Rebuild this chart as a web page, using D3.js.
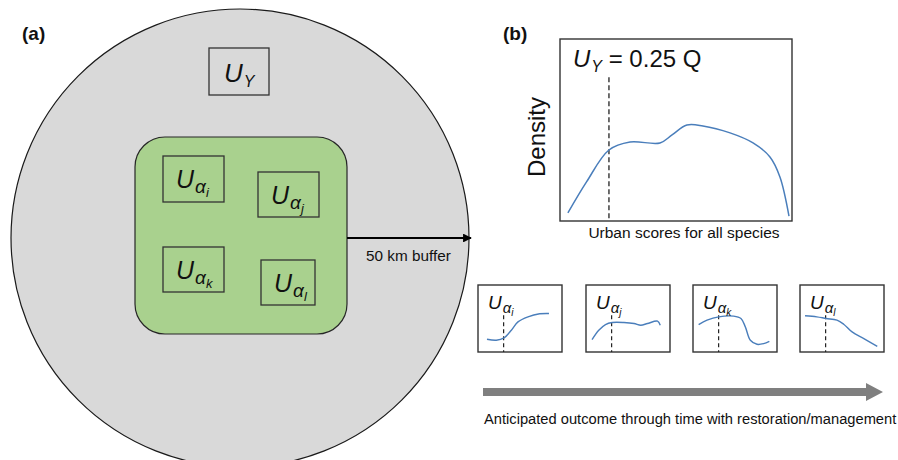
<!DOCTYPE html>
<html>
<head>
<meta charset="utf-8">
<script src="https://cdn.jsdelivr.net/npm/d3@7"></script>
<style>
  body { margin: 0; background: #fff; }
  svg { display: block; }
  text { font-family: "Liberation Sans", Arial, sans-serif; fill: #111; }
</style>
</head>
<body>
<svg id="fig" width="898" height="460"></svg>
<script>
// ---- Data -------------------------------------------------------------
// Regional distribution of urban scores for all species (panel b)
const regionScore   = [0.034, 0.115, 0.211, 0.302, 0.431, 0.483, 0.547, 0.616, 0.733, 0.832, 0.905, 0.948, 0.987];
const regionDensity = [0.044, 0.216, 0.390, 0.434, 0.429, 0.473, 0.527, 0.522, 0.484, 0.429, 0.352, 0.242, 0.027];
const regionQuantile = 0.211;   // U_Y = 0.25 quantile
const regionQuantileTop = 0.79;

// Site-level outcome curves (one per site alpha_i .. alpha_l)
const siteIds = ["i", "j", "k", "l"];
const siteScore_i   = [0.107, 0.218, 0.310, 0.397, 0.476, 0.595, 0.734, 0.845];
const siteDensity_i = [0.190, 0.175, 0.210, 0.325, 0.450, 0.525, 0.570, 0.575];
const siteScore_j   = [0.072, 0.152, 0.232, 0.312, 0.452, 0.572, 0.652, 0.732, 0.852, 0.884];
const siteDensity_j = [0.185, 0.325, 0.410, 0.440, 0.440, 0.425, 0.400, 0.425, 0.460, 0.400];
const siteScore_k   = [0.067, 0.167, 0.306, 0.484, 0.571, 0.623, 0.683, 0.762, 0.841, 0.909];
const siteDensity_k = [0.410, 0.475, 0.525, 0.535, 0.500, 0.375, 0.175, 0.115, 0.125, 0.160];
const siteScore_l   = [0.060, 0.200, 0.312, 0.440, 0.520, 0.620, 0.760, 0.920];
const siteDensity_l = [0.540, 0.525, 0.500, 0.475, 0.415, 0.300, 0.200, 0.085];
const siteQuantile = 0.305;
const siteQuantileTop = 0.55;

const siteScores = [siteScore_i, siteScore_j, siteScore_k, siteScore_l];
const siteDensities = [siteDensity_i, siteDensity_j, siteDensity_k, siteDensity_l];

// ---- Styles -----------------------------------------------------------
const curveColor = "#4a7ebb";
const boxStroke = "#333";
const svg = d3.select("#fig");

// Helper: "U" with a nested subscript (alpha + letter) or a single subscript
function uLabel(g, x, y, sizes, sub, subsub) {
  const t = g.append("text").attr("x", x).attr("y", y)
    .style("font-style", "italic").style("font-size", sizes[0] + "px");
  t.append("tspan").text("U");
  t.append("tspan").attr("dx", 1).attr("dy", sizes[0] * 0.2)
    .style("font-size", sizes[1] + "px").text(sub);
  if (subsub) {
    t.append("tspan").attr("dy", sizes[1] * 0.2)
      .style("font-size", sizes[2] + "px").text(subsub);
  }
  return t;
}

// ---- Panel (a) ----------------------------------------------------------
const pa = svg.append("g");
pa.append("text").attr("x", 22).attr("y", 40)
  .style("font-weight", "bold").style("font-size", "19px").text("(a)");

// 50 km buffer region
pa.append("circle").attr("cx", 240).attr("cy", 238).attr("r", 229)
  .attr("fill", "#d9d9d9").attr("stroke", "#1a1a1a").attr("stroke-width", 1.2);

// Regional box U_Y
pa.append("rect").attr("x", 209).attr("y", 48).attr("width", 60).attr("height", 47)
  .attr("fill", "none").attr("stroke", boxStroke).attr("stroke-width", 1.3);
uLabel(pa, 224, 82, [26, 16], "Y");

// Restoration area
pa.append("rect").attr("x", 135).attr("y", 137).attr("width", 212).attr("height", 197)
  .attr("rx", 30).attr("ry", 30)
  .attr("fill", "#a9d18e").attr("stroke", "#262626").attr("stroke-width", 1.2);

const innerBoxes = [
  { x: 163, y: 156, w: 61, h: 46 },
  { x: 258, y: 172, w: 61, h: 45 },
  { x: 163, y: 247, w: 61, h: 45 },
  { x: 261, y: 260, w: 54, h: 45 }
];
siteIds.forEach((id, i) => {
  const b = innerBoxes[i];
  pa.append("rect").attr("x", b.x).attr("y", b.y).attr("width", b.w).attr("height", b.h)
    .attr("fill", "none").attr("stroke", boxStroke).attr("stroke-width", 1.3);
  uLabel(pa, b.x + 13, b.y + 32, [25, 19, 13], "α", id);
});

// Buffer arrow
pa.append("defs").append("marker").attr("id", "head")
  .attr("viewBox", "0 0 10 10").attr("refX", 9).attr("refY", 5)
  .attr("markerWidth", 4).attr("markerHeight", 4).attr("orient", "auto")
  .append("path").attr("d", "M0,0L10,5L0,10Z").attr("fill", "#000");
pa.append("line").attr("x1", 347).attr("y1", 238).attr("x2", 471).attr("y2", 238)
  .attr("stroke", "#000").attr("stroke-width", 2.2).attr("marker-end", "url(#head)");
pa.append("text").attr("x", 366).attr("y", 261).style("font-size", "15.3px").text("50 km buffer");

// ---- Panel (b) ----------------------------------------------------------
const pb = svg.append("g");
pb.append("text").attr("x", 503).attr("y", 40)
  .style("font-weight", "bold").style("font-size", "19px").text("(b)");

const bx = d3.scaleLinear().domain([0, 1]).range([560, 792]);
const by = d3.scaleLinear().domain([0, 1]).range([221, 39]);

pb.append("rect").attr("x", bx(0)).attr("y", by(1))
  .attr("width", bx(1) - bx(0)).attr("height", by(0) - by(1))
  .attr("fill", "#fff").attr("stroke", boxStroke).attr("stroke-width", 1.4);

pb.append("line").attr("x1", bx(regionQuantile)).attr("x2", bx(regionQuantile))
  .attr("y1", by(regionQuantileTop)).attr("y2", by(0))
  .attr("stroke", "#222").attr("stroke-width", 1.3).attr("stroke-dasharray", "5,3");

const bLine = d3.line().x(d => bx(d[0])).y(d => by(d[1])).curve(d3.curveCatmullRom.alpha(0.5));
pb.append("path").datum(d3.zip(regionScore, regionDensity)).attr("d", bLine)
  .attr("fill", "none").attr("stroke", curveColor).attr("stroke-width", 1.5);

const uy = uLabel(pb, 573, 67, [24, 16], "Y");
uy.append("tspan").attr("dy", -24 * 0.2).style("font-style", "normal")
  .style("font-size", "24px").text(" = 0.25 Q");

pb.append("text").attr("transform", "translate(545,137) rotate(-90)")
  .attr("text-anchor", "middle").style("font-size", "24px").text("Density");
pb.append("text").attr("x", 684).attr("y", 238).attr("text-anchor", "middle")
  .style("font-size", "15.5px").text("Urban scores for all species");

// Small site panels
const smallLeft = [478, 586, 693, 800];
const smallW = 84, smallTop = 285, smallH = 67;
siteIds.forEach((id, i) => {
  const g = pb.append("g");
  const sx = d3.scaleLinear().domain([0, 1]).range([smallLeft[i], smallLeft[i] + smallW]);
  const sy = d3.scaleLinear().domain([0, 1]).range([smallTop + smallH, smallTop]);
  g.append("rect").attr("x", sx(0)).attr("y", sy(1)).attr("width", smallW).attr("height", smallH)
    .attr("fill", "#fff").attr("stroke", boxStroke).attr("stroke-width", 1.4);
  g.append("line").attr("x1", sx(siteQuantile)).attr("x2", sx(siteQuantile))
    .attr("y1", sy(siteQuantileTop)).attr("y2", sy(0))
    .attr("stroke", "#222").attr("stroke-width", 1.2).attr("stroke-dasharray", "4,3");
  const line = d3.line().x(d => sx(d[0])).y(d => sy(d[1])).curve(d3.curveCatmullRom.alpha(0.5));
  g.append("path").datum(d3.zip(siteScores[i], siteDensities[i])).attr("d", line)
    .attr("fill", "none").attr("stroke", curveColor).attr("stroke-width", 1.4);
  uLabel(g, smallLeft[i] + 10, smallTop + 24, [19, 15, 10], "α", id);
});

// Time arrow
const arrow = d3.path();
arrow.moveTo(483, 388); arrow.lineTo(866, 388); arrow.lineTo(866, 383);
arrow.lineTo(883, 392); arrow.lineTo(866, 401); arrow.lineTo(866, 396);
arrow.lineTo(483, 396); arrow.closePath();
pb.append("path").attr("d", arrow.toString()).attr("fill", "#7f7f7f");

pb.append("text").attr("x", 484).attr("y", 424).style("font-size", "14.7px")
  .text("Anticipated outcome through time with restoration/management");
</script>
</body>
</html>
